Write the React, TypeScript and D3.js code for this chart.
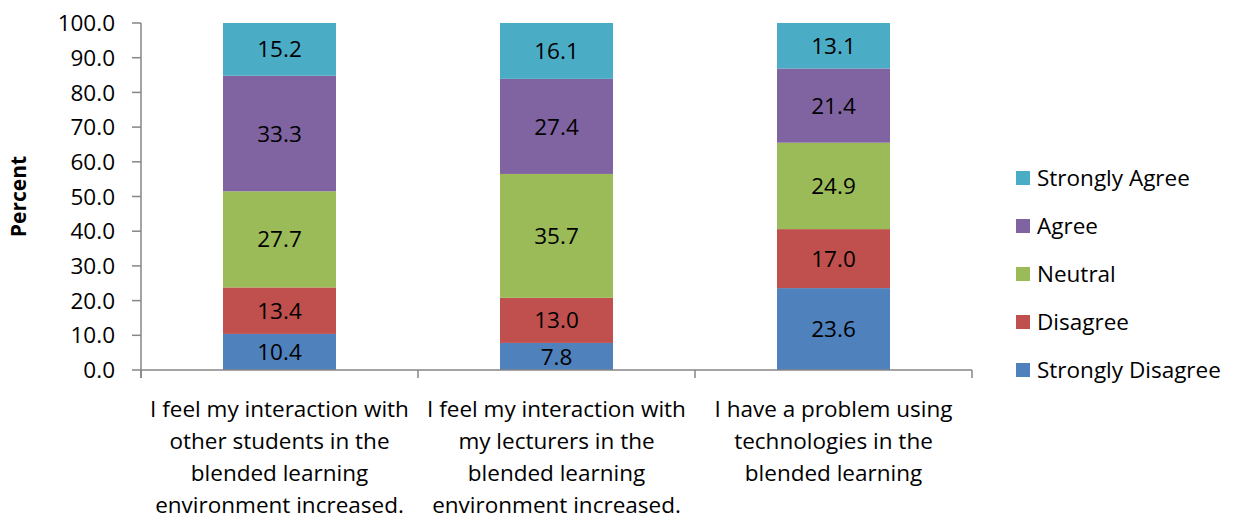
import { useEffect, useRef } from 'react';
import * as d3 from 'd3';

const categories = [
  ['I feel my interaction with', 'other students in the', 'blended learning', 'environment increased.'],
  ['I feel my interaction with', 'my lecturers in the', 'blended learning', 'environment increased.'],
  ['I have a problem using', 'technologies in the', 'blended learning'],
];
const seriesNames = ['Strongly Disagree', 'Disagree', 'Neutral', 'Agree', 'Strongly Agree'];
const seriesColors = ['#4F81BD', '#C0504D', '#9BBB59', '#8064A2', '#4BACC6'];
const stronglyDisagree = [10.4, 7.8, 23.6];
const disagree = [13.4, 13.0, 17.0];
const neutral = [27.7, 35.7, 24.9];
const agree = [33.3, 27.4, 21.4];
const stronglyAgree = [15.2, 16.1, 13.1];
const yTicks = [0, 10, 20, 30, 40, 50, 60, 70, 80, 90, 100];

const FONT = '"Open Sans", "Noto Sans", sans-serif';
const FS = '22.5px';

const App = () => {
  const ref = useRef<SVGSVGElement>(null);

  useEffect(() => {
    if (!ref.current) return;
    const svg = d3.select(ref.current);
    svg.selectAll('*').remove();

    const left = 141, right = 972, top = 23, bottom = 370;
    const values = [stronglyDisagree, disagree, neutral, agree, stronglyAgree];
    const rows = categories.map((_, i) => {
      const r: any = { idx: i };
      seriesNames.forEach((s, k) => (r[s] = values[k][i]));
      return r;
    });
    const stacked = d3.stack<any>().keys(seriesNames)(rows);

    const x = d3.scaleBand<number>().domain(categories.map((_, i) => i)).range([left, right]).paddingInner(0).paddingOuter(0);
    const y = d3.scaleLinear().domain([0, 100]).range([bottom, top]);
    const barW = 113;

    const g = svg.append('g');

    // bars
    stacked.forEach((layer, k) => {
      g.selectAll(null)
        .data(layer)
        .join('rect')
        .attr('x', (d: any) => x(d.data.idx)! + x.bandwidth() / 2 - barW / 2)
        .attr('width', barW)
        .attr('y', d => y(d[1]))
        .attr('height', d => y(d[0]) - y(d[1]))
        .attr('fill', seriesColors[k]);
      g.selectAll(null)
        .data(layer)
        .join('text')
        .attr('x', (d: any) => x(d.data.idx)! + x.bandwidth() / 2)
        .attr('y', d => (y(d[0]) + y(d[1])) / 2)
        .attr('dy', '0.36em')
        .attr('text-anchor', 'middle')
        .style('font-family', FONT)
        .style('font-size', FS)
        .attr('fill', '#000')
        .text(d => (d[1] - d[0]).toFixed(1));
    });

    // y axis
    const axisColor = '#868686';
    g.append('line').attr('x1', left).attr('x2', left).attr('y1', top).attr('y2', bottom + 8).attr('stroke', axisColor).attr('stroke-width', 1.5);
    yTicks.forEach(t => {
      g.append('line').attr('x1', left - 9).attr('x2', left).attr('y1', y(t)).attr('y2', y(t)).attr('stroke', axisColor).attr('stroke-width', 1.5);
      g.append('text')
        .attr('x', 115)
        .attr('y', y(t))
        .attr('dy', '0.36em')
        .attr('text-anchor', 'end')
        .style('font-family', FONT)
        .style('font-size', FS)
        .text(t.toFixed(1));
    });

    // x axis
    g.append('line').attr('x1', left).attr('x2', right).attr('y1', bottom).attr('y2', bottom).attr('stroke', axisColor).attr('stroke-width', 1.5);
    [...categories.map((_, i) => x(i)!), right].forEach(px => {
      g.append('line').attr('x1', px).attr('x2', px).attr('y1', bottom).attr('y2', bottom + 8).attr('stroke', axisColor).attr('stroke-width', 1.5);
    });
    categories.forEach((lines, i) => {
      const t = g.append('text')
        .attr('text-anchor', 'middle')
        .style('font-family', FONT)
        .style('font-size', FS);
      lines.forEach((ln, j) => {
        t.append('tspan')
          .attr('x', x(i)! + x.bandwidth() / 2)
          .attr('y', 409 + j * 32)
          .attr('dy', '0.36em')
          .text(ln);
      });
    });

    // y title
    g.append('text')
      .attr('transform', `translate(18,${(top + bottom) / 2}) rotate(-90)`)
      .attr('text-anchor', 'middle')
      .attr('dy', '0.36em')
      .style('font-family', FONT)
      .style('font-size', '21px')
      .style('font-weight', 'bold')
      .text('Percent');

    // legend
    const legendOrder = [...seriesNames].reverse();
    legendOrder.forEach((s, j) => {
      const ly = 178 + j * 48;
      const k = seriesNames.indexOf(s);
      g.append('rect').attr('x', 1016).attr('y', ly - 7).attr('width', 14).attr('height', 14).attr('fill', seriesColors[k]);
      g.append('text')
        .attr('x', 1037)
        .attr('y', ly)
        .attr('dy', '0.36em')
        .style('font-family', FONT)
        .style('font-size', FS)
        .text(s);
    });
  }, []);

  return (
    <svg ref={ref} width={1241} height={521} style={{ position: 'absolute', left: 0, top: 0, background: '#fff' }} />
  );
};

export default App;
